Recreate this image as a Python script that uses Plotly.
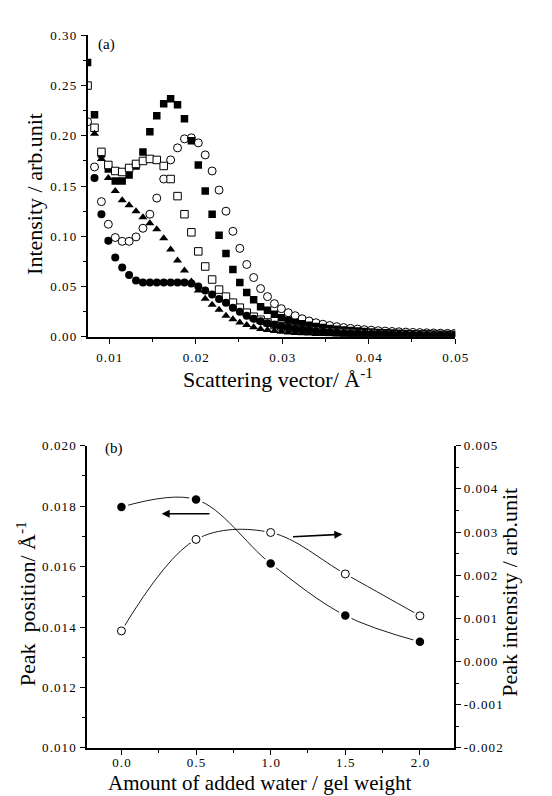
import plotly.graph_objects as go

# ---------------- Panel (a) data ----------------
q = [0.0075, 0.0083, 0.0091, 0.0099, 0.0107, 0.0115, 0.0123, 0.0131, 0.0139, 0.0147,
     0.0155, 0.0163, 0.0171, 0.0179, 0.0187, 0.0195, 0.0203, 0.0211, 0.0219, 0.0227,
     0.0235, 0.0243, 0.0251, 0.0259, 0.0267, 0.0275, 0.0283, 0.0291, 0.0299, 0.0307,
     0.0315, 0.0323, 0.0331, 0.0339, 0.0347, 0.0355, 0.0363, 0.0371, 0.0379, 0.0387,
     0.0395, 0.0403, 0.0411, 0.0419, 0.0427, 0.0435, 0.0443, 0.0451, 0.0459, 0.0467,
     0.0475, 0.0483, 0.0491, 0.0499]

filled_sq = [0.273, 0.221, 0.182, 0.167, 0.155, 0.155, 0.161, 0.170, 0.184, 0.204,
             0.220, 0.232, 0.237, 0.231, 0.217, 0.195, 0.171, 0.145, 0.122, 0.101,
             0.083, 0.067, 0.054, 0.044, 0.037, 0.030, 0.0265, 0.0225, 0.019, 0.0165,
             0.0145, 0.013, 0.0115, 0.0102, 0.0092, 0.0083, 0.0075, 0.0068, 0.0062, 0.0057,
             0.0052, 0.0048, 0.0044, 0.0041, 0.0038, 0.0035, 0.0033, 0.0031, 0.0029, 0.0027,
             0.0025, 0.0024, 0.0023, 0.0022]

open_sq = [0.250, 0.208, 0.184, 0.171, 0.165, 0.164, 0.168, 0.172, 0.175, 0.177,
           0.176, 0.170, 0.157, 0.140, 0.122, 0.104, 0.085, 0.070, 0.057, 0.047,
           0.040, 0.034, 0.029, 0.024, 0.020, 0.017, 0.0143, 0.0117, 0.0103, 0.0092,
           0.0082, 0.0074, 0.0067, 0.0061, 0.0056, 0.0051, 0.0047, 0.0043, 0.0040, 0.0037,
           0.0034, 0.0032, 0.0030, 0.0028, 0.0026, 0.0025, 0.0024, 0.0023, 0.0022, 0.0021,
           0.0020, 0.0019, 0.0018, 0.0018]

open_circ = [0.214, 0.169, 0.1345, 0.112, 0.0988, 0.095, 0.095, 0.0994, 0.108, 0.122,
             0.138, 0.157, 0.176, 0.188, 0.197, 0.198, 0.193, 0.181, 0.165, 0.146,
             0.125, 0.105, 0.088, 0.072, 0.059, 0.048, 0.040, 0.033, 0.028, 0.024,
             0.021, 0.018, 0.0158, 0.014, 0.0125, 0.0112, 0.0101, 0.0092, 0.0084, 0.0077,
             0.0071, 0.0066, 0.0061, 0.0057, 0.0053, 0.0050, 0.0047, 0.0044, 0.0042, 0.0040,
             0.0038, 0.0036, 0.0034, 0.0033]

filled_circ = [None, 0.158, 0.122, 0.0955, 0.079, 0.069, 0.0614, 0.056, 0.054, 0.054,
               0.054, 0.054, 0.054, 0.054, 0.054, 0.053, 0.050, 0.046, 0.042, 0.0377,
               0.0338, 0.029, 0.025, 0.021, 0.018, 0.0155, 0.0135, 0.012, 0.0105, 0.0092,
               0.0081, 0.0072, 0.0065, 0.0058, 0.0052, 0.0047, 0.0043, 0.0039, 0.0036, 0.0033,
               0.0031, 0.0029, 0.0027, 0.0025, 0.0024, 0.0023, 0.0022, 0.0021, 0.0020, 0.0019,
               0.0018, 0.0017, 0.0017, 0.0016]

triangle = [None, 0.202, 0.177, 0.158, 0.145, 0.136, 0.131, 0.125, 0.119, 0.113,
            0.107, 0.098, 0.087, 0.076, 0.066, 0.055, 0.046, 0.038, 0.032, 0.027,
            0.021, 0.0175, 0.0143, 0.0117, 0.0094, 0.0078, 0.0068, 0.0058, 0.0050, 0.0044,
            0.0039, 0.0035, 0.0032, 0.0029, 0.0027, 0.0025, 0.0023, 0.0022, 0.0021, 0.0020,
            0.0019, 0.0019, 0.0018, 0.0018, 0.0017, 0.0017, 0.0016, 0.0016, 0.0015, 0.0015,
            0.0015, 0.0014, 0.0014, 0.0014]

# ---------------- Panel (b) data ----------------
water = [0.0, 0.5, 1.0, 1.5, 2.0]
peak_position = [0.01797, 0.01822, 0.01610, 0.01438, 0.01351]
peak_intensity = [0.00071, 0.00283, 0.00299, 0.00203, 0.00106]

# tick labels
a_xticks = [0.01, 0.02, 0.03, 0.04, 0.05]
a_xtext = ["0.01", "0.02", "0.03", "0.04", "0.05"]
a_yticks = [0.0, 0.05, 0.10, 0.15, 0.20, 0.25, 0.30]
a_ytext = ["0.00", "0.05", "0.10", "0.15", "0.20", "0.25", "0.30"]
b_xticks = [0.0, 0.5, 1.0, 1.5, 2.0]
b_xtext = ["0.0", "0.5", "1.0", "1.5", "2.0"]
b_yticks = [0.010, 0.012, 0.014, 0.016, 0.018, 0.020]
b_ytext = ["0.010", "0.012", "0.014", "0.016", "0.018", "0.020"]
b_y2ticks = [-0.002, -0.001, 0.0, 0.001, 0.002, 0.003, 0.004, 0.005]
b_y2text = ["-0.002", "-0.001", "0.000", "0.001", "0.002", "0.003", "0.004", "0.005"]

W, H = 552, 796
FONT = "Liberation Serif"
HAIR = "\u200a"

def px(x):
    return x / W

def py(y):
    return 1 - y / H

def spaced(labels):
    # the original typesetting uses loose letter spacing in tick labels
    return [HAIR.join(list(s)) for s in labels]

fig = go.Figure()

# Panel (a) traces (drawing order matters for overlaps)
open_style = dict(color="white", line=dict(color="black", width=1))
fig.add_trace(go.Scatter(x=q, y=open_circ, mode="markers", xaxis="x", yaxis="y",
                         marker=dict(symbol="circle", size=8, **open_style)))
fig.add_trace(go.Scatter(x=q, y=filled_sq, mode="markers", xaxis="x", yaxis="y",
                         marker=dict(symbol="square", size=7.5, color="black")))
fig.add_trace(go.Scatter(x=q, y=open_sq, mode="markers", xaxis="x", yaxis="y",
                         marker=dict(symbol="square", size=7.5, **open_style)))
fig.add_trace(go.Scatter(x=q, y=triangle, mode="markers", xaxis="x", yaxis="y",
                         marker=dict(symbol="triangle-up", size=8, color="black")))
fig.add_trace(go.Scatter(x=q, y=filled_circ, mode="markers", xaxis="x", yaxis="y",
                         marker=dict(symbol="circle", size=8, color="black")))

# Panel (b) traces
fig.add_trace(go.Scatter(x=water, y=peak_position, mode="lines", xaxis="x2", yaxis="y2",
                         line=dict(color="black", width=0.9, shape="spline", smoothing=1.0)))
fig.add_trace(go.Scatter(x=water, y=peak_intensity, mode="lines", xaxis="x2", yaxis="y3",
                         line=dict(color="black", width=0.9, shape="spline", smoothing=1.0)))
# white masks to create gaps around the markers
fig.add_trace(go.Scatter(x=water, y=peak_position, mode="markers", xaxis="x2", yaxis="y2",
                         marker=dict(symbol="circle", size=14, color="white")))
fig.add_trace(go.Scatter(x=water, y=peak_intensity, mode="markers", xaxis="x2", yaxis="y3",
                         marker=dict(symbol="circle", size=13, color="white")))
fig.add_trace(go.Scatter(x=water, y=peak_position, mode="markers", xaxis="x2", yaxis="y2",
                         marker=dict(symbol="circle", size=8.5, color="black")))
fig.add_trace(go.Scatter(x=water, y=peak_intensity, mode="markers", xaxis="x2", yaxis="y3",
                         marker=dict(symbol="circle", size=8, color="white",
                                     line=dict(color="black", width=1))))

axis_common = dict(showline=True, linecolor="black", linewidth=1.6, showgrid=False,
                   zeroline=False, ticks="outside", ticklen=5, tickwidth=1.4,
                   tickcolor="black", tickfont=dict(family=FONT, size=13, color="black"))
minor_style = dict(ticks="outside", ticklen=3, tickwidth=1.2, tickcolor="black")

fig.update_layout(
    width=W, height=H,
    margin=dict(l=0, r=0, t=0, b=0),
    paper_bgcolor="white", plot_bgcolor="white",
    showlegend=False,
    font=dict(family=FONT, color="black"),
    xaxis=dict(domain=[px(81.5), px(458)], range=[0.0075, 0.05], anchor="y",
               tickvals=a_xticks, ticktext=spaced(a_xtext), ticklabelstandoff=3,
               minor=dict(dtick=0.005, tick0=0.0, **minor_style), **axis_common),
    yaxis=dict(domain=[py(328), py(20.7)], range=[0.0, 0.30], anchor="x",
               tickvals=a_yticks, ticktext=spaced(a_ytext), ticklabelstandoff=2,
               minor=dict(dtick=0.025, tick0=0.0, **minor_style), **axis_common),
    xaxis2=dict(domain=[px(81), px(457)], range=[-0.23, 2.23], anchor="y2",
                tickvals=b_xticks, ticktext=spaced(b_xtext), ticklabelstandoff=-3,
                minor=dict(dtick=0.25, tick0=0.0, **minor_style), **axis_common),
    yaxis2=dict(domain=[py(747), py(439)], range=[0.010, 0.020], anchor="x2",
                tickvals=b_yticks, ticktext=spaced(b_ytext), ticklabelstandoff=2,
                minor=dict(dtick=0.001, tick0=0.0, **minor_style), **axis_common),
    yaxis3=dict(range=[-0.002, 0.005], overlaying="y2", side="right", anchor="x2",
                tickvals=b_y2ticks, ticktext=spaced(b_y2text),
                minor=dict(dtick=0.0005, tick0=0.0, **minor_style), **axis_common),
)

title_font = dict(family=FONT, size=22, color="black")
lbl = dict(xref="paper", yref="paper", showarrow=False, xanchor="center", yanchor="middle")
annotations = [
    dict(text="(a)", x=px(101), y=py(30), font=dict(family=FONT, size=15, color="black"), **lbl),
    dict(text="Intensity / arb.unit", x=px(27), y=py(182), textangle=-90, font=title_font, **lbl),
    dict(text="Scattering vector/ Å<sup>-1</sup>", x=px(276), y=py(370), font=title_font, **lbl),
    dict(text="(b)", x=px(109), y=py(442), font=dict(family=FONT, size=15, color="black"), **lbl),
    dict(text="Peak  position/ Å<sup>-1</sup>", x=px(18), y=py(600), textangle=-90,
         font=title_font, **lbl),
    dict(text="Peak intensity / arb.unit", x=px(514), y=py(588), textangle=-90,
         font=title_font, **lbl),
    dict(text="Amount of added water / gel weight", x=px(258), y=py(783),
         font=dict(family=FONT, size=21, color="black"), **lbl),
    # arrows
    dict(x=0.27, y=0.01775, xref="x2", yref="y2", ax=0.6, ay=0.01775, axref="x2",
         ayref="y2", showarrow=True, arrowhead=2, arrowsize=1, arrowwidth=1.6,
         arrowcolor="black", text=""),
    dict(x=1.48, y=0.00295, xref="x2", yref="y3", ax=1.14, ay=0.00289, axref="x2",
         ayref="y3", showarrow=True, arrowhead=2, arrowsize=1, arrowwidth=1.6,
         arrowcolor="black", text=""),
]
fig.update_layout(annotations=annotations)

fig.write_html("out.html")
